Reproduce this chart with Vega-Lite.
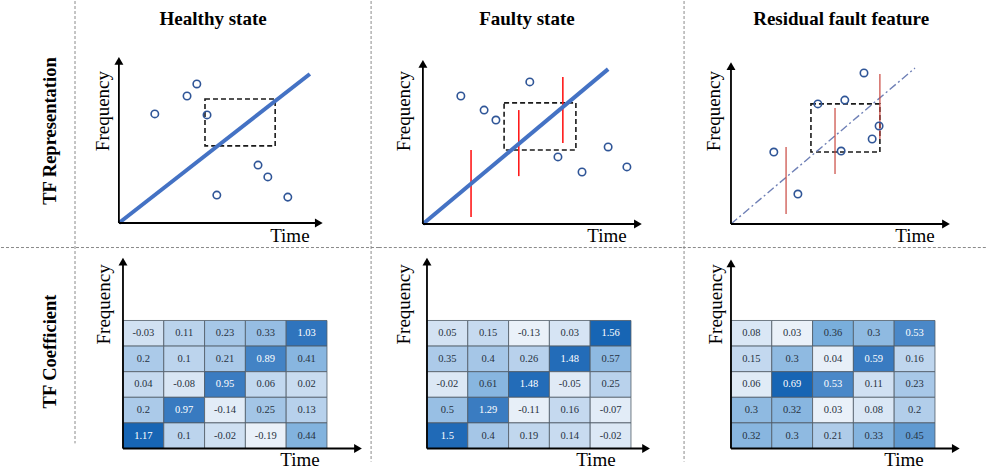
{
  "$schema": "https://vega.github.io/schema/vega-lite/v6.json",
  "background": "white",
  "padding": 0,
  "config": {"view": {"stroke": null}},
  "datasets": {
    "tf": [
      {"r": "rep", "s": "healthy", "k": "title", "x": 2.21, "y": 7.6, "txt": "Healthy state"},
      {"r": "rep", "s": "faulty", "k": "title", "x": 2.45, "y": 7.6, "txt": "Faulty state"},
      {"r": "rep", "s": "residual", "k": "title", "x": 2.7, "y": 7.6, "txt": "Residual fault feature"},
      {"r": "rep", "s": "healthy", "k": "rowtitle", "x": -1.79, "y": 3.22, "txt": "TF Representation"},
      {"r": "coef", "s": "healthy", "k": "rowtitle", "x": -1.79, "y": 3.79, "txt": "TF Coefficient"},

      {"r": "rep", "s": "healthy", "k": "vdiv", "x": -1.176, "y": 8.3, "y2": -0.859},
      {"r": "rep", "s": "faulty", "k": "vdiv", "x": -1.37, "y": 8.3, "y2": -0.859},
      {"r": "rep", "s": "residual", "k": "vdiv", "x": -1.15, "y": 8.3, "y2": -0.859},
      {"r": "coef", "s": "healthy", "k": "vdiv", "x": -1.176, "y": 8.3, "y2": 0.2},
      {"r": "coef", "s": "faulty", "k": "vdiv", "x": -1.37, "y": 8.3, "y2": -0.51},
      {"r": "coef", "s": "residual", "k": "vdiv", "x": -1.15, "y": 8.3, "y2": -0.51},
      {"r": "coef", "s": "healthy", "k": "hdiv", "x": -2.99, "x2": 6.3, "y": 7.85},
      {"r": "coef", "s": "faulty", "k": "hdiv", "x": -1.18, "x2": 6.3, "y": 7.85},
      {"r": "coef", "s": "residual", "k": "hdiv", "x": -1.18, "x2": 6.3, "y": 7.85},

      {"r": "rep", "s": "healthy", "k": "ax", "x": -0.1, "y": -0.37, "x2": 4.8, "y2": -0.37},
      {"r": "rep", "s": "healthy", "k": "ax", "x": -0.1, "y": -0.37, "x2": -0.1, "y2": 5.96},
      {"r": "rep", "s": "healthy", "k": "tip", "x": 4.8, "y": -0.37, "d": "right"},
      {"r": "rep", "s": "healthy", "k": "tip", "x": -0.1, "y": 5.96, "d": "up"},
      {"r": "rep", "s": "healthy", "k": "trend", "x": -0.1, "y": -0.37, "x2": 4.58, "y2": 5.45},
      {"r": "rep", "s": "healthy", "k": "box", "x": 2.01, "x2": 3.73, "y": 2.64, "y2": 4.47},
      {"r": "rep", "s": "healthy", "k": "pt", "x": 0.78, "y": 3.89},
      {"r": "rep", "s": "healthy", "k": "pt", "x": 1.57, "y": 4.59},
      {"r": "rep", "s": "healthy", "k": "pt", "x": 1.81, "y": 5.06},
      {"r": "rep", "s": "healthy", "k": "pt", "x": 2.06, "y": 3.85},
      {"r": "rep", "s": "healthy", "k": "pt", "x": 3.31, "y": 1.89},
      {"r": "rep", "s": "healthy", "k": "pt", "x": 3.55, "y": 1.43},
      {"r": "rep", "s": "healthy", "k": "pt", "x": 2.3, "y": 0.72},
      {"r": "rep", "s": "healthy", "k": "pt", "x": 4.04, "y": 0.64},
      {"r": "rep", "s": "healthy", "k": "flab", "x": -0.49, "y": 4.0, "txt": "Frequency"},
      {"r": "rep", "s": "healthy", "k": "tlab", "x": 4.09, "y": -0.88, "txt": "Time"},

      {"r": "rep", "s": "faulty", "k": "ax", "x": -0.1, "y": -0.41, "x2": 5.17, "y2": -0.41},
      {"r": "rep", "s": "faulty", "k": "ax", "x": -0.1, "y": -0.41, "x2": -0.1, "y2": 5.84},
      {"r": "rep", "s": "faulty", "k": "tip", "x": 5.17, "y": -0.41, "d": "right"},
      {"r": "rep", "s": "faulty", "k": "tip", "x": -0.1, "y": 5.84, "d": "up"},
      {"r": "rep", "s": "faulty", "k": "trend", "x": -0.1, "y": -0.41, "x2": 4.44, "y2": 5.64},
      {"r": "rep", "s": "faulty", "k": "box", "x": 1.89, "x2": 3.65, "y": 2.48, "y2": 4.32},
      {"r": "rep", "s": "faulty", "k": "spike", "x": 1.08, "y": -0.14, "y2": 2.48},
      {"r": "rep", "s": "faulty", "k": "spike", "x": 2.25, "y": 1.46, "y2": 4.04},
      {"r": "rep", "s": "faulty", "k": "spike", "x": 3.33, "y": 2.75, "y2": 5.33},
      {"r": "rep", "s": "faulty", "k": "pt", "x": 0.83, "y": 4.59},
      {"r": "rep", "s": "faulty", "k": "pt", "x": 1.4, "y": 4.04},
      {"r": "rep", "s": "faulty", "k": "pt", "x": 1.69, "y": 3.65},
      {"r": "rep", "s": "faulty", "k": "pt", "x": 2.52, "y": 5.14},
      {"r": "rep", "s": "faulty", "k": "pt", "x": 3.21, "y": 2.21},
      {"r": "rep", "s": "faulty", "k": "pt", "x": 3.8, "y": 1.62},
      {"r": "rep", "s": "faulty", "k": "pt", "x": 4.44, "y": 2.6},
      {"r": "rep", "s": "faulty", "k": "pt", "x": 4.9, "y": 1.82},
      {"r": "rep", "s": "faulty", "k": "flab", "x": -0.56, "y": 4.0, "txt": "Frequency"},
      {"r": "rep", "s": "faulty", "k": "tlab", "x": 4.41, "y": -0.88, "txt": "Time"},

      {"r": "rep", "s": "residual", "k": "ax", "x": 0, "y": -0.41, "x2": 5.27, "y2": -0.41},
      {"r": "rep", "s": "residual", "k": "ax", "x": 0, "y": -0.41, "x2": 0, "y2": 5.76},
      {"r": "rep", "s": "residual", "k": "tip", "x": 5.27, "y": -0.41, "d": "right"},
      {"r": "rep", "s": "residual", "k": "tip", "x": 0, "y": 5.76, "d": "up"},
      {"r": "rep", "s": "residual", "k": "trend", "x": 0, "y": -0.41, "x2": 4.51, "y2": 5.68},
      {"r": "rep", "s": "residual", "k": "box", "x": 1.96, "x2": 3.65, "y": 2.4, "y2": 4.28},
      {"r": "rep", "s": "residual", "k": "spike", "x": 1.35, "y": -0.02, "y2": 2.6},
      {"r": "rep", "s": "residual", "k": "spike", "x": 2.55, "y": 1.54, "y2": 4.12},
      {"r": "rep", "s": "residual", "k": "spike", "x": 3.65, "y": 2.91, "y2": 5.45},
      {"r": "rep", "s": "residual", "k": "pt", "x": 1.05, "y": 2.4},
      {"r": "rep", "s": "residual", "k": "pt", "x": 1.64, "y": 0.76},
      {"r": "rep", "s": "residual", "k": "pt", "x": 2.13, "y": 4.28},
      {"r": "rep", "s": "residual", "k": "pt", "x": 2.79, "y": 4.43},
      {"r": "rep", "s": "residual", "k": "pt", "x": 3.26, "y": 5.49},
      {"r": "rep", "s": "residual", "k": "pt", "x": 2.7, "y": 2.44},
      {"r": "rep", "s": "residual", "k": "pt", "x": 3.46, "y": 2.91},
      {"r": "rep", "s": "residual", "k": "pt", "x": 3.63, "y": 3.42},
      {"r": "rep", "s": "residual", "k": "flab", "x": -0.42, "y": 4.0, "txt": "Frequency"},
      {"r": "rep", "s": "residual", "k": "tlab", "x": 4.51, "y": -0.88, "txt": "Time"},

      {"r": "coef", "s": "healthy", "k": "ax", "x": 0, "y": 0, "x2": 5.76, "y2": 0},
      {"r": "coef", "s": "healthy", "k": "ax", "x": 0, "y": 0, "x2": 0, "y2": 7.3},
      {"r": "coef", "s": "healthy", "k": "tip", "x": 5.76, "y": 0, "d": "right"},
      {"r": "coef", "s": "healthy", "k": "tip", "x": 0, "y": 7.3, "d": "up"},
      {"r": "coef", "s": "healthy", "k": "flab", "x": -0.47, "y": 5.63, "txt": "Frequency"},
      {"r": "coef", "s": "healthy", "k": "tlab", "x": 4.34, "y": -0.43, "txt": "Time"},
      {"r": "coef", "s": "faulty", "k": "ax", "x": 0, "y": 0, "x2": 5.37, "y2": 0},
      {"r": "coef", "s": "faulty", "k": "ax", "x": 0, "y": 0, "x2": 0, "y2": 7.3},
      {"r": "coef", "s": "faulty", "k": "tip", "x": 5.37, "y": 0, "d": "right"},
      {"r": "coef", "s": "faulty", "k": "tip", "x": 0, "y": 7.3, "d": "up"},
      {"r": "coef", "s": "faulty", "k": "flab", "x": -0.56, "y": 5.63, "txt": "Frequency"},
      {"r": "coef", "s": "faulty", "k": "tlab", "x": 4.14, "y": -0.43, "txt": "Time"},
      {"r": "coef", "s": "residual", "k": "ax", "x": 0, "y": 0, "x2": 5.51, "y2": 0},
      {"r": "coef", "s": "residual", "k": "ax", "x": 0, "y": 0, "x2": 0, "y2": 7.23},
      {"r": "coef", "s": "residual", "k": "tip", "x": 5.51, "y": 0, "d": "right"},
      {"r": "coef", "s": "residual", "k": "tip", "x": 0, "y": 7.23, "d": "up"},
      {"r": "coef", "s": "residual", "k": "flab", "x": -0.37, "y": 5.63, "txt": "Frequency"},
      {"r": "coef", "s": "residual", "k": "tlab", "x": 4.24, "y": -0.43, "txt": "Time"},

      {"r": "coef", "s": "healthy", "k": "cell", "t": 1, "f": 5, "v": -0.03},
      {"r": "coef", "s": "healthy", "k": "cell", "t": 2, "f": 5, "v": 0.11},
      {"r": "coef", "s": "healthy", "k": "cell", "t": 3, "f": 5, "v": 0.23},
      {"r": "coef", "s": "healthy", "k": "cell", "t": 4, "f": 5, "v": 0.33},
      {"r": "coef", "s": "healthy", "k": "cell", "t": 5, "f": 5, "v": 1.03},
      {"r": "coef", "s": "healthy", "k": "cell", "t": 1, "f": 4, "v": 0.2},
      {"r": "coef", "s": "healthy", "k": "cell", "t": 2, "f": 4, "v": 0.1},
      {"r": "coef", "s": "healthy", "k": "cell", "t": 3, "f": 4, "v": 0.21},
      {"r": "coef", "s": "healthy", "k": "cell", "t": 4, "f": 4, "v": 0.89},
      {"r": "coef", "s": "healthy", "k": "cell", "t": 5, "f": 4, "v": 0.41},
      {"r": "coef", "s": "healthy", "k": "cell", "t": 1, "f": 3, "v": 0.04},
      {"r": "coef", "s": "healthy", "k": "cell", "t": 2, "f": 3, "v": -0.08},
      {"r": "coef", "s": "healthy", "k": "cell", "t": 3, "f": 3, "v": 0.95},
      {"r": "coef", "s": "healthy", "k": "cell", "t": 4, "f": 3, "v": 0.06},
      {"r": "coef", "s": "healthy", "k": "cell", "t": 5, "f": 3, "v": 0.02},
      {"r": "coef", "s": "healthy", "k": "cell", "t": 1, "f": 2, "v": 0.2},
      {"r": "coef", "s": "healthy", "k": "cell", "t": 2, "f": 2, "v": 0.97},
      {"r": "coef", "s": "healthy", "k": "cell", "t": 3, "f": 2, "v": -0.14},
      {"r": "coef", "s": "healthy", "k": "cell", "t": 4, "f": 2, "v": 0.25},
      {"r": "coef", "s": "healthy", "k": "cell", "t": 5, "f": 2, "v": 0.13},
      {"r": "coef", "s": "healthy", "k": "cell", "t": 1, "f": 1, "v": 1.17},
      {"r": "coef", "s": "healthy", "k": "cell", "t": 2, "f": 1, "v": 0.1},
      {"r": "coef", "s": "healthy", "k": "cell", "t": 3, "f": 1, "v": -0.02},
      {"r": "coef", "s": "healthy", "k": "cell", "t": 4, "f": 1, "v": -0.19},
      {"r": "coef", "s": "healthy", "k": "cell", "t": 5, "f": 1, "v": 0.44},

      {"r": "coef", "s": "faulty", "k": "cell", "t": 1, "f": 5, "v": 0.05},
      {"r": "coef", "s": "faulty", "k": "cell", "t": 2, "f": 5, "v": 0.15},
      {"r": "coef", "s": "faulty", "k": "cell", "t": 3, "f": 5, "v": -0.13},
      {"r": "coef", "s": "faulty", "k": "cell", "t": 4, "f": 5, "v": 0.03},
      {"r": "coef", "s": "faulty", "k": "cell", "t": 5, "f": 5, "v": 1.56},
      {"r": "coef", "s": "faulty", "k": "cell", "t": 1, "f": 4, "v": 0.35},
      {"r": "coef", "s": "faulty", "k": "cell", "t": 2, "f": 4, "v": 0.4},
      {"r": "coef", "s": "faulty", "k": "cell", "t": 3, "f": 4, "v": 0.26},
      {"r": "coef", "s": "faulty", "k": "cell", "t": 4, "f": 4, "v": 1.48},
      {"r": "coef", "s": "faulty", "k": "cell", "t": 5, "f": 4, "v": 0.57},
      {"r": "coef", "s": "faulty", "k": "cell", "t": 1, "f": 3, "v": -0.02},
      {"r": "coef", "s": "faulty", "k": "cell", "t": 2, "f": 3, "v": 0.61},
      {"r": "coef", "s": "faulty", "k": "cell", "t": 3, "f": 3, "v": 1.48},
      {"r": "coef", "s": "faulty", "k": "cell", "t": 4, "f": 3, "v": -0.05},
      {"r": "coef", "s": "faulty", "k": "cell", "t": 5, "f": 3, "v": 0.25},
      {"r": "coef", "s": "faulty", "k": "cell", "t": 1, "f": 2, "v": 0.5},
      {"r": "coef", "s": "faulty", "k": "cell", "t": 2, "f": 2, "v": 1.29},
      {"r": "coef", "s": "faulty", "k": "cell", "t": 3, "f": 2, "v": -0.11},
      {"r": "coef", "s": "faulty", "k": "cell", "t": 4, "f": 2, "v": 0.16},
      {"r": "coef", "s": "faulty", "k": "cell", "t": 5, "f": 2, "v": -0.07},
      {"r": "coef", "s": "faulty", "k": "cell", "t": 1, "f": 1, "v": 1.5},
      {"r": "coef", "s": "faulty", "k": "cell", "t": 2, "f": 1, "v": 0.4},
      {"r": "coef", "s": "faulty", "k": "cell", "t": 3, "f": 1, "v": 0.19},
      {"r": "coef", "s": "faulty", "k": "cell", "t": 4, "f": 1, "v": 0.14},
      {"r": "coef", "s": "faulty", "k": "cell", "t": 5, "f": 1, "v": -0.02},

      {"r": "coef", "s": "residual", "k": "cell", "t": 1, "f": 5, "v": 0.08},
      {"r": "coef", "s": "residual", "k": "cell", "t": 2, "f": 5, "v": 0.03},
      {"r": "coef", "s": "residual", "k": "cell", "t": 3, "f": 5, "v": 0.36},
      {"r": "coef", "s": "residual", "k": "cell", "t": 4, "f": 5, "v": 0.3},
      {"r": "coef", "s": "residual", "k": "cell", "t": 5, "f": 5, "v": 0.53},
      {"r": "coef", "s": "residual", "k": "cell", "t": 1, "f": 4, "v": 0.15},
      {"r": "coef", "s": "residual", "k": "cell", "t": 2, "f": 4, "v": 0.3},
      {"r": "coef", "s": "residual", "k": "cell", "t": 3, "f": 4, "v": 0.04},
      {"r": "coef", "s": "residual", "k": "cell", "t": 4, "f": 4, "v": 0.59},
      {"r": "coef", "s": "residual", "k": "cell", "t": 5, "f": 4, "v": 0.16},
      {"r": "coef", "s": "residual", "k": "cell", "t": 1, "f": 3, "v": 0.06},
      {"r": "coef", "s": "residual", "k": "cell", "t": 2, "f": 3, "v": 0.69},
      {"r": "coef", "s": "residual", "k": "cell", "t": 3, "f": 3, "v": 0.53},
      {"r": "coef", "s": "residual", "k": "cell", "t": 4, "f": 3, "v": 0.11},
      {"r": "coef", "s": "residual", "k": "cell", "t": 5, "f": 3, "v": 0.23},
      {"r": "coef", "s": "residual", "k": "cell", "t": 1, "f": 2, "v": 0.3},
      {"r": "coef", "s": "residual", "k": "cell", "t": 2, "f": 2, "v": 0.32},
      {"r": "coef", "s": "residual", "k": "cell", "t": 3, "f": 2, "v": 0.03},
      {"r": "coef", "s": "residual", "k": "cell", "t": 4, "f": 2, "v": 0.08},
      {"r": "coef", "s": "residual", "k": "cell", "t": 5, "f": 2, "v": 0.2},
      {"r": "coef", "s": "residual", "k": "cell", "t": 1, "f": 1, "v": 0.32},
      {"r": "coef", "s": "residual", "k": "cell", "t": 2, "f": 1, "v": 0.3},
      {"r": "coef", "s": "residual", "k": "cell", "t": 3, "f": 1, "v": 0.21},
      {"r": "coef", "s": "residual", "k": "cell", "t": 4, "f": 1, "v": 0.33},
      {"r": "coef", "s": "residual", "k": "cell", "t": 5, "f": 1, "v": 0.45}
    ]
  },
  "data": {"name": "tf"},
  "facet": {
    "row": {"field": "r", "type": "nominal", "sort": ["rep", "coef"], "header": {"labels": false, "title": null}},
    "column": {"field": "s", "type": "nominal", "sort": ["healthy", "faulty", "residual"], "header": {"labels": false, "title": null}}
  },
  "spacing": 0,
  "bounds": "flush",
  "spec": {
    "width": 304,
    "height": 234.5,
    "layer": [
      {
        "transform": [{"filter": "datum.k === 'vdiv'"}],
        "mark": {"type": "rule", "stroke": "#8a8a8a", "strokeWidth": 1, "strokeDash": [3, 2]},
        "encoding": {
          "x": {"field": "x", "type": "quantitative", "scale": {"domain": [-1.176, 6.275], "nice": false, "zero": false}, "axis": null},
          "y": {"field": "y", "type": "quantitative", "scale": {"domain": [-0.859, 8.3], "nice": false, "zero": false}, "axis": null},
          "y2": {"field": "y2"}
        }
      },
      {
        "transform": [{"filter": "datum.k === 'hdiv'"}],
        "mark": {"type": "rule", "stroke": "#8a8a8a", "strokeWidth": 1, "strokeDash": [3, 2]},
        "encoding": {
          "x": {"field": "x", "type": "quantitative", "axis": null},
          "x2": {"field": "x2"},
          "y": {"field": "y", "type": "quantitative", "axis": null}
        }
      },
      {
        "transform": [
          {"filter": "datum.k === 'cell'"},
          {"joinaggregate": [{"op": "min", "field": "v", "as": "lo"}, {"op": "max", "field": "v", "as": "hi"}], "groupby": ["s"]},
          {"calculate": "(datum.v - datum.lo) / (datum.hi - datum.lo)", "as": "n"},
          {"calculate": "datum.t - 1", "as": "t0"},
          {"calculate": "datum.f - 1", "as": "f0"}
        ],
        "mark": {"type": "rect", "stroke": "#4f5a66", "strokeWidth": 0.8},
        "encoding": {
          "x": {"field": "t0", "type": "quantitative", "axis": null},
          "x2": {"field": "t"},
          "y": {"field": "f0", "type": "quantitative", "axis": null},
          "y2": {"field": "f"},
          "color": {"field": "n", "type": "quantitative", "scale": {"domain": [0, 0.5, 1], "range": ["#eaf1f9", "#79aedc", "#1765b4"]}, "legend": null}
        }
      },
      {
        "transform": [
          {"filter": "datum.k === 'cell'"},
          {"joinaggregate": [{"op": "min", "field": "v", "as": "lo"}, {"op": "max", "field": "v", "as": "hi"}], "groupby": ["s"]},
          {"calculate": "(datum.v - datum.lo) / (datum.hi - datum.lo)", "as": "n"},
          {"calculate": "datum.t - 0.5", "as": "tc"},
          {"calculate": "datum.f - 0.5", "as": "fc"}
        ],
        "mark": {"type": "text", "font": "Liberation Serif", "fontSize": 10.5, "baseline": "middle", "align": "center"},
        "encoding": {
          "x": {"field": "tc", "type": "quantitative", "axis": null},
          "y": {"field": "fc", "type": "quantitative", "axis": null},
          "text": {"field": "v", "type": "nominal"},
          "color": {"condition": {"test": "datum.n > 0.7", "value": "#ffffff"}, "value": "#27323f"}
        }
      },
      {
        "transform": [{"filter": "datum.k === 'box'"}],
        "mark": {"type": "rect", "filled": false, "stroke": "#1a1a1a", "strokeWidth": 1.6, "strokeDash": [5, 3]},
        "encoding": {
          "x": {"field": "x", "type": "quantitative", "axis": null},
          "x2": {"field": "x2"},
          "y": {"field": "y", "type": "quantitative", "axis": null},
          "y2": {"field": "y2"}
        }
      },
      {
        "transform": [{"filter": "datum.k === 'spike' && datum.s === 'faulty'"}],
        "mark": {"type": "rule", "stroke": "#ff1a1a", "strokeWidth": 1.6},
        "encoding": {
          "x": {"field": "x", "type": "quantitative", "axis": null},
          "y": {"field": "y", "type": "quantitative", "axis": null},
          "y2": {"field": "y2"}
        }
      },
      {
        "transform": [{"filter": "datum.k === 'trend' && datum.s !== 'residual'"}],
        "mark": {"type": "rule", "stroke": "#4472c4", "strokeWidth": 4},
        "encoding": {
          "x": {"field": "x", "type": "quantitative", "axis": null},
          "y": {"field": "y", "type": "quantitative", "axis": null},
          "x2": {"field": "x2"},
          "y2": {"field": "y2"}
        }
      },
      {
        "transform": [{"filter": "datum.k === 'trend' && datum.s === 'residual'"}],
        "mark": {"type": "rule", "stroke": "#6f80b6", "strokeWidth": 1.4, "strokeDash": [8, 3, 2, 3]},
        "encoding": {
          "x": {"field": "x", "type": "quantitative", "axis": null},
          "y": {"field": "y", "type": "quantitative", "axis": null},
          "x2": {"field": "x2"},
          "y2": {"field": "y2"}
        }
      },
      {
        "transform": [{"filter": "datum.k === 'spike' && datum.s === 'residual'"}],
        "mark": {"type": "rule", "stroke": "#c9473f", "strokeWidth": 1.2},
        "encoding": {
          "x": {"field": "x", "type": "quantitative", "axis": null},
          "y": {"field": "y", "type": "quantitative", "axis": null},
          "y2": {"field": "y2"}
        }
      },
      {
        "transform": [{"filter": "datum.k === 'ax'"}],
        "mark": {"type": "rule", "stroke": "#000000", "strokeWidth": 1.8},
        "encoding": {
          "x": {"field": "x", "type": "quantitative", "axis": null},
          "y": {"field": "y", "type": "quantitative", "axis": null},
          "x2": {"field": "x2"},
          "y2": {"field": "y2"}
        }
      },
      {
        "transform": [{"filter": "datum.k === 'tip'"}],
        "mark": {"type": "point", "filled": true, "fill": "#000000", "strokeWidth": 0, "size": 80, "opacity": 1},
        "encoding": {
          "x": {"field": "x", "type": "quantitative", "axis": null},
          "y": {"field": "y", "type": "quantitative", "axis": null},
          "shape": {"field": "d", "type": "nominal", "scale": {"domain": ["up", "right"], "range": ["triangle-up", "triangle-right"]}, "legend": null}
        }
      },
      {
        "transform": [{"filter": "datum.k === 'pt'"}],
        "mark": {"type": "point", "shape": "circle", "filled": false, "stroke": "#2f5597", "strokeWidth": 1.6, "size": 55, "opacity": 1},
        "encoding": {
          "x": {"field": "x", "type": "quantitative", "axis": null},
          "y": {"field": "y", "type": "quantitative", "axis": null}
        }
      },
      {
        "transform": [{"filter": "datum.k === 'flab'"}],
        "mark": {"type": "text", "font": "Liberation Serif", "fontSize": 19, "angle": 270, "align": "center", "baseline": "middle", "color": "#000000"},
        "encoding": {
          "x": {"field": "x", "type": "quantitative", "axis": null},
          "y": {"field": "y", "type": "quantitative", "axis": null},
          "text": {"field": "txt", "type": "nominal"}
        }
      },
      {
        "transform": [{"filter": "datum.k === 'tlab'"}],
        "mark": {"type": "text", "font": "Liberation Serif", "fontSize": 19, "align": "center", "baseline": "middle", "color": "#000000"},
        "encoding": {
          "x": {"field": "x", "type": "quantitative", "axis": null},
          "y": {"field": "y", "type": "quantitative", "axis": null},
          "text": {"field": "txt", "type": "nominal"}
        }
      },
      {
        "transform": [{"filter": "datum.k === 'title'"}],
        "mark": {"type": "text", "font": "Liberation Serif", "fontSize": 19, "fontWeight": "bold", "align": "center", "baseline": "middle", "color": "#000000"},
        "encoding": {
          "x": {"field": "x", "type": "quantitative", "axis": null},
          "y": {"field": "y", "type": "quantitative", "axis": null},
          "text": {"field": "txt", "type": "nominal"}
        }
      },
      {
        "transform": [{"filter": "datum.k === 'rowtitle'"}],
        "mark": {"type": "text", "font": "Liberation Serif", "fontSize": 18.5, "fontWeight": "bold", "angle": 270, "align": "center", "baseline": "middle", "color": "#000000"},
        "encoding": {
          "x": {"field": "x", "type": "quantitative", "axis": null},
          "y": {"field": "y", "type": "quantitative", "axis": null},
          "text": {"field": "txt", "type": "nominal"}
        }
      }
    ]
  }
}
